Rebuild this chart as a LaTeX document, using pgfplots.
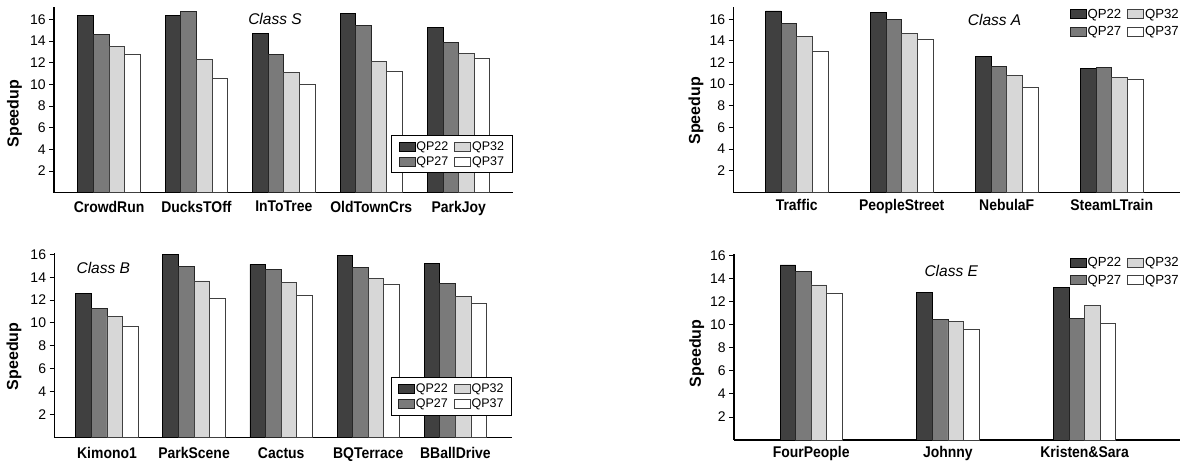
\documentclass[border=0pt]{standalone}
\usepackage{pgfplots}
\pgfplotsset{compat=1.18}
\usepackage{pgfplotstable}
\usepackage{fontspec}
\setmainfont{Liberation Sans}

\definecolor{cA}{HTML}{404040}
\definecolor{cB}{HTML}{7A7A7A}
\definecolor{cC}{HTML}{D7D7D7}

\pgfplotstableread{
x q22 q27 q32 q37
0 16.34 14.59 13.54 12.74
1 16.34 16.71 12.30 10.58
2 14.68 12.77 11.10 9.96
3 16.53 15.42 12.12 11.19
4 15.29 13.85 12.86 12.40
}\classS

\pgfplotstableread{
x q22 q27 q32 q37
0 16.77 15.63 14.40 13.07
1 16.65 15.97 14.71 14.12
2 12.55 11.66 10.79 9.71
3 11.47 11.56 10.64 10.45
}\classA

\pgfplotstableread{
x q22 q27 q32 q37
0 12.59 11.27 10.60 9.70
1 16.00 14.95 13.67 12.15
2 15.12 14.66 13.55 12.41
3 15.91 14.83 13.87 13.40
4 15.21 13.49 12.29 11.74
}\classB

\pgfplotstableread{
x q22 q27 q32 q37
0 15.16 14.56 13.43 12.74
1 12.77 10.46 10.29 9.60
2 13.23 10.55 11.68 10.10
}\classE

\pgfplotsset{
  panel/.style={
    scale only axis,
    anchor=south west,
    axis x line=bottom, axis y line=left,
    axis line style={-, line width=1.2pt},
    ybar,
    ymin=0,
    ytick={2,4,...,16},
    tick align=outside,
    major tick length=4.7pt,
    y tick style={line width=0.9pt, black},
    x tick style={draw=none},
    xtick=data,
    /pgf/number format/assume math mode=true,
    yticklabel style={font=\fontsize{14}{16}\selectfont},
    xticklabel style={font=\fontsize{15.5}{17}\selectfont\bfseries, xscale=0.9},
    ylabel={Speedup},
    ylabel style={font=\fontsize{16}{18}\selectfont\bfseries, rotate=0, anchor=center},
    legend columns=2, transpose legend,
    legend image code/.code={\draw[#1,bar shift=0pt] (0pt,-4.5pt) rectangle (16pt,4.5pt);},
    legend cell align=left,
    legend style={font=\fontsize{12.5}{14}\selectfont, inner xsep=7pt, inner ysep=5pt,
      nodes={inner sep=1pt}, row sep=3pt, /tikz/every even column/.append style={column sep=5pt}},
    clip=false,
  },
  s1/.style={fill=cA, draw=black, line width=0.8pt, bar shift=-23.4pt, bar width=15.6pt},
  s2/.style={fill=cB, draw=black!85, line width=0.8pt, bar shift=-7.8pt, bar width=15.6pt},
  s3/.style={fill=cC, draw=black!75, line width=0.8pt, bar shift=7.8pt, bar width=15.6pt},
  s4/.style={fill=white, draw=black!75, line width=0.8pt, bar shift=23.4pt, bar width=15.6pt},
}

\begin{document}
\begin{tikzpicture}
\useasboundingbox (0,0) rectangle (1198pt,462pt);

% Class S
\begin{axis}[panel,
  at={(54pt,269.3pt)}, width=458.5pt, height=185.7pt,
  ymax=17.15, xmin=-0.63, xmax=4.616,
  xticklabels={CrowdRun,DucksTOff,InToTree,OldTownCrs,ParkJoy},
  xticklabel style={yshift=0pt},
  ylabel style={at={(axis description cs:-0.0862,0.426)}},
  legend style={at={(1,0.311)}, anchor=north east, draw=black, line width=0.8pt},
]
\addplot[s1] table[x=x,y=q22]{\classS};
\addplot[s2] table[x=x,y=q27]{\classS};
\addplot[s3] table[x=x,y=q32]{\classS};
\addplot[s4] table[x=x,y=q37]{\classS};
\legend{QP22,QP27,QP32,QP37}
\node[font=\fontsize{15.5}{17}\selectfont\itshape] at (rel axis cs:0.482,0.934) {Class S};
\end{axis}

% Class A
\begin{axis}[panel,
  at={(733.3pt,269.7pt)}, width=446.7pt, height=185.5pt,
  ymax=17.15, xmin=-0.604, xmax=3.65,
  xticklabels={Traffic,PeopleStreet,NebulaF,SteamLTrain},
  xticklabel style={yshift=1pt},
  ylabel style={at={(axis description cs:-0.0835,0.44)}},
  legend style={at={(1,0.995)}, anchor=north east, draw=none, font=\fontsize{13.2}{15}\selectfont, inner xsep=0pt, inner ysep=0pt, row sep=4.5pt},
]
\addplot[s1] table[x=x,y=q22]{\classA};
\addplot[s2] table[x=x,y=q27]{\classA};
\addplot[s3] table[x=x,y=q32]{\classA};
\addplot[s4] table[x=x,y=q37]{\classA};
\legend{QP22,QP27,QP32,QP37}
\node[font=\fontsize{15.5}{17}\selectfont\itshape] at (rel axis cs:0.585,0.929) {Class A};
\end{axis}

% Class B
\begin{axis}[panel,
  at={(54.3pt,24.8pt)}, width=457.7pt, height=184pt,
  ymax=16.1, xmin=-0.605, xmax=4.65,
  xticklabels={Kimono1,ParkScene,Cactus,BQTerrace,BBallDrive},
  xticklabel style={yshift=-2pt},
  ylabel style={at={(axis description cs:-0.088,0.44)}},
  legend style={at={(1,0.325)}, anchor=north east, draw=black, line width=0.8pt},
]
\addplot[s1] table[x=x,y=q22]{\classB};
\addplot[s2] table[x=x,y=q27]{\classB};
\addplot[s3] table[x=x,y=q32]{\classB};
\addplot[s4] table[x=x,y=q37]{\classB};
\legend{QP22,QP27,QP32,QP37}
\node[font=\fontsize{15.5}{17}\selectfont\itshape] at (rel axis cs:0.107,0.921) {Class B};
\end{axis}

% Class E
\begin{axis}[panel,
  at={(734pt,21.9pt)}, width=446pt, height=186pt,
  ymax=16.1, xmin=-0.565, xmax=2.698,
  xticklabels={FourPeople,Johnny,Kristen\&Sara},
  xticklabel style={yshift=2pt},
  ylabel style={at={(axis description cs:-0.0836,0.466)}},
  legend style={at={(1,0.99)}, anchor=north east, draw=none, font=\fontsize{13.2}{15}\selectfont, inner xsep=0pt, inner ysep=0pt, row sep=5pt},
]
\addplot[s1] table[x=x,y=q22]{\classE};
\addplot[s2] table[x=x,y=q27]{\classE};
\addplot[s3] table[x=x,y=q32]{\classE};
\addplot[s4] table[x=x,y=q37]{\classE};
\legend{QP22,QP27,QP32,QP37}
\node[font=\fontsize{15.5}{17}\selectfont\itshape] at (rel axis cs:0.487,0.908) {Class E};
\end{axis}
\end{tikzpicture}
\end{document}
